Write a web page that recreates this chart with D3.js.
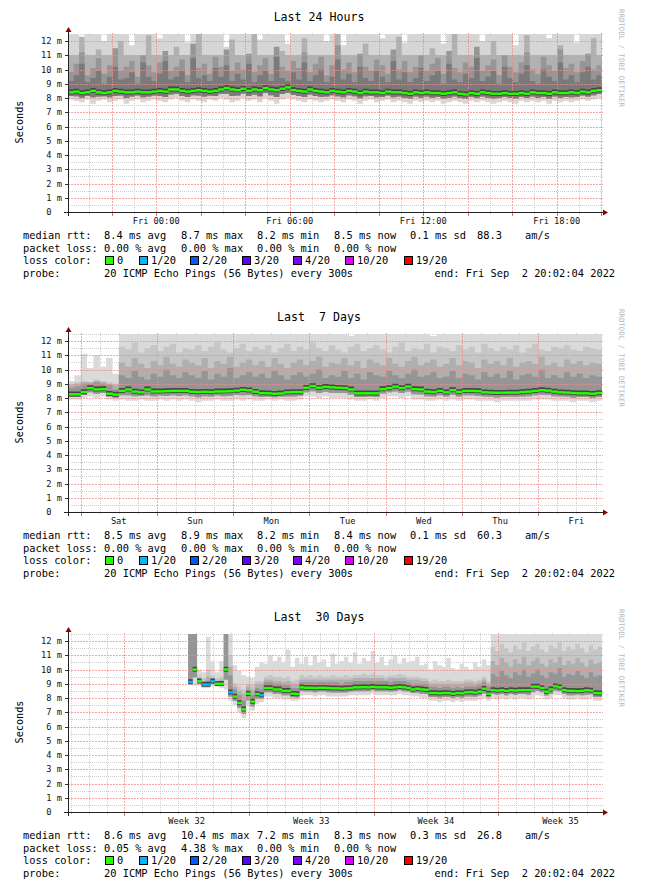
<!DOCTYPE html>
<html><head><meta charset="utf-8">
<script src="https://cdn.jsdelivr.net/npm/d3@7/dist/d3.min.js"></script>
<style>
html,body{margin:0;padding:0;background:#fff;}
svg text{font-family:"DejaVu Sans Mono",monospace;white-space:pre;}
</style></head><body>
<svg id="c" width="660" height="890"></svg>
<script>
// ---------------- data ----------------
const yTicks = [0,1,2,3,4,5,6,7,8,9,10,11,12];
const yLabels = ["0  ","1 m","2 m","3 m","4 m","5 m","6 m","7 m","8 m","9 m","10 m","11 m","12 m"];
const lossColors = ["#26ff00","#00b8ff","#0059ff","#5e00ff","#7e00ff","#dd00ff","#ff0000"];
const lossNames = ["0","1/20","2/20","3/20","4/20","10/20","19/20"];

// ---- Last 24 hours (15 min steps) ----
const labels24 = ["Fri 00:00","Fri 06:00","Fri 12:00","Fri 18:00"];
const labelTimes24 = ["2022-09-02T00:00:00Z","2022-09-02T06:00:00Z","2022-09-02T12:00:00Z","2022-09-02T18:00:00Z"];
const med24 = [8.4,8.45,8.35,8.4,8.5,8.4,8.35,8.4, 8.5,8.45,8.4,8.4,8.45,8.4,8.4,8.45, 8.5,8.45,8.6,8.6,8.5,8.45,8.5,8.55,
 8.5,8.45,8.5,8.6,8.7,8.6,8.55,8.65, 8.5,8.6,8.55,8.7,8.6,8.55,8.65,8.75, 8.55,8.5,8.45,8.6,8.5,8.45,8.4,8.5,
 8.45,8.4,8.5,8.45,8.35,8.45,8.4,8.4, 8.35,8.45,8.4,8.4,8.35,8.3,8.4,8.35, 8.4,8.35,8.35,8.3,8.35,8.4,8.3,8.25,
 8.35,8.3,8.4,8.35,8.3,8.3,8.35,8.3, 8.3,8.35,8.3,8.4,8.35,8.35,8.3,8.4, 8.35,8.35,8.4,8.35,8.45,8.4,8.5,8.55];
const lo24 = [7.9,7.8,7.7,7.9,7.6,7.8,7.9,7.7, 7.8,7.9,7.6,7.8,7.9,7.7,7.8,7.9, 7.8,7.7,7.9,8.0,7.8,7.7,7.9,7.8,
 7.7,7.9,7.8,8.0,7.9,7.7,7.8,8.0, 7.8,7.9,7.7,8.0,7.8,7.6,7.9,8.0, 7.9,7.8,7.7,7.9,7.8,7.7,7.8,7.9,
 7.8,7.7,7.9,7.8,7.6,7.8,7.9,7.7, 7.8,7.9,7.7,7.8,7.7,7.6,7.8,7.7, 7.8,7.7,7.8,7.6,7.7,7.8,7.7,7.6,
 7.8,7.7,7.8,7.7,7.6,7.7,7.8,7.7, 7.6,7.8,7.7,7.8,7.7,7.8,7.6,7.8, 7.7,7.8,7.7,7.8,7.9,7.8,7.9,8.0];
const top24 = [12.5,12.5,11.8,12.5,12.5,12.5,12.0,12.5, 12.5,12.5,12.5,11.7,12.5,12.5,12.5,12.5, 12.2,12.5,12.5,12.5,12.5,11.9,12.5,12.5,
 12.5,12.5,12.5,12.5,11.6,12.5,12.5,12.5, 12.5,12.5,12.1,12.5,12.5,12.5,12.5,11.8, 12.5,12.5,12.5,12.5,12.5,12.5,12.0,12.5,
 12.5,11.7,12.5,12.5,12.5,12.5,12.5,12.5, 12.2,12.5,12.5,12.5,11.9,12.5,12.5,12.5, 12.5,12.5,12.5,11.8,12.5,12.5,12.5,12.5,
 12.5,12.5,12.0,12.5,12.5,12.5,12.5,12.5, 11.7,12.5,12.5,12.5,12.5,12.5,12.2,12.5, 12.5,12.5,12.5,11.9,12.5,12.5,12.5,12.5];
const h3_24 = [11.0,11.0,12.3,11.0,11.0,11.4,11.0,11.0, 11.0,12.0,11.0,11.0,11.0,11.0,12.4,11.0, 11.0,11.0,11.0,11.6,11.0,11.0,11.0,12.5,
 11.0,11.0,11.0,11.0,11.0,12.1,11.0,11.0, 11.0,12.5,11.0,11.0,11.0,11.0,11.3,11.0, 11.0,11.0,12.2,11.0,11.0,11.0,11.0,11.0,
 12.5,11.0,11.0,11.0,11.0,11.8,11.0,11.0, 11.0,11.0,11.0,12.3,11.0,11.0,11.0,11.0, 11.0,11.5,11.0,11.0,11.0,12.5,11.0,11.0,
 11.0,11.0,11.0,11.0,12.0,11.0,11.0,11.0, 11.0,11.0,12.4,11.0,11.0,11.0,11.0,11.0, 11.7,11.0,11.0,11.0,11.0,11.0,12.2,11.0];
const h2_24 = [9.8,10.4,11.2,9.6,10.1,10.8,9.7,10.3, 11.5,9.9,10.2,10.6,9.5,11.0,10.3,9.8, 10.5,11.3,9.9,10.2,10.7,9.6,11.8,10.1,
 10.4,9.7,10.9,10.2,11.4,9.9,10.5,10.0, 11.1,9.8,10.3,10.8,9.7,11.6,10.2,9.9, 10.6,10.1,11.2,9.8,10.4,10.9,9.6,10.3,
 11.7,10.0,10.5,9.8,11.1,10.2,9.9,10.7, 10.3,9.7,11.4,10.0,10.6,9.8,10.2,11.0, 9.9,10.4,10.8,9.7,11.3,10.1,9.8,10.5,
 10.2,11.6,9.9,10.3,10.7,9.6,11.0,10.2, 9.8,10.5,11.2,10.0,9.7,10.9,10.3,9.9, 11.4,10.1,10.4,9.8,10.6,11.1,10.0,10.3];
const h1_24 = [9.2,9.6,10.4,9.1,9.4,9.9,9.0,9.5, 10.2,9.3,9.4,9.8,9.0,10.5,9.5,9.2, 9.7,10.6,9.3,9.5,9.9,9.1,10.8,9.4,
 9.6,9.2,10.1,9.5,10.3,9.2,9.7,9.3, 10.4,9.1,9.6,9.9,9.2,10.9,9.4,9.2, 9.8,9.3,10.5,9.2,9.6,10.0,9.1,9.5,
 10.7,9.3,9.7,9.1,10.2,9.4,9.2,9.9, 9.5,9.1,10.6,9.3,9.8,9.1,9.4,10.1, 9.2,9.6,9.9,9.0,10.4,9.3,9.1,9.7,
 9.4,10.8,9.2,9.5,9.9,9.0,10.2,9.4, 9.1,9.7,10.3,9.2,9.0,10.0,9.5,9.2, 10.5,9.3,9.6,9.1,9.8,10.2,9.3,9.6];
const lossAt24 = [];
const rtt24 = ["8.4 ms avg","8.7 ms max","8.2 ms min","8.5 ms now","0.1 ms sd","88.3","am/s"];
const pl24 = ["0.00 % avg","0.00 % max","0.00 % min","0.00 % now"];

// ---- Last 7 days (2 h steps) ----
const labels7 = ["Sat","Sun","Mon","Tue","Wed","Thu","Fri"];
const labelTimes7 = ["2022-08-27T12:00:00Z","2022-08-28T12:00:00Z","2022-08-29T12:00:00Z","2022-08-30T12:00:00Z","2022-08-31T12:00:00Z","2022-09-01T12:00:00Z","2022-09-02T12:00:00Z"];
const med7 = [8.26,8.26,8.42,8.7,8.6,8.62,8.3,8.24,8.5,8.6,8.45,8.4,
 8.6,8.46,8.46,8.48,8.5,8.5,8.5,8.44,8.42,8.44,8.42,8.46,
 8.46,8.48,8.52,8.58,8.54,8.44,8.34,8.33,8.3,8.32,8.4,8.42,
 8.42,8.72,8.84,8.72,8.78,8.75,8.72,8.7,8.6,8.33,8.33,8.33,
 8.33,8.62,8.7,8.8,8.7,8.8,8.62,8.6,8.45,8.42,8.5,8.4,
 8.55,8.42,8.5,8.5,8.48,8.4,8.38,8.37,8.37,8.38,8.38,8.42,
 8.45,8.5,8.55,8.52,8.45,8.4,8.38,8.35,8.33,8.33,8.3,8.35];
const lo7 = [7.9,7.9,8.0,8.1,8.0,8.1,7.9,7.8, 7.9,7.8,7.8,7.9,7.8,7.8,7.9,7.8, 7.9,7.8,7.9,7.8,7.7,7.8,7.8,7.9,
 7.8,7.8,7.9,7.8,7.9,7.8,7.8,7.9, 7.8,7.9,7.8,7.8,7.9,8.1,8.1,8.0, 8.1,8.0,8.0,8.0,7.9,7.8,7.8,7.9,
 7.8,8.0,8.1,8.1,8.0,8.1,7.9,7.9, 7.8,7.8,7.9,7.8,7.9,7.8,7.9,7.9, 7.8,7.8,7.8,7.7,7.8,7.8,7.8,7.8,
 7.8,7.9,7.9,7.9,7.8,7.8,7.8,7.7, 7.8,7.8,7.7,7.8];
const top7 = [9.2,9.6,11.1,10.1,11.0,10.2,10.8,9.7,12.5,12.5,12.5,12.5,
 12.5,12.5,12.5,12.5,12.5,12.5,12.5,12.5,12.5,12.5,12.5,12.5,
 12.5,12.5,12.5,12.5,12.5,12.5,12.5,12.5,12.5,12.5,12.5,12.5,
 12.5,12.5,12.5,12.5,12.5,12.5,12.5,12.5,12.35,12.5,12.5,12.5,
 12.5,12.5,12.5,12.5,12.5,12.5,12.5,12.5,12.5,12.35,12.5,12.5,
 12.5,12.5,12.5,12.5,12.5,12.5,12.5,12.5,12.5,12.5,12.5,12.5,
 12.5,12.5,12.5,12.5,12.5,12.5,12.5,12.5,12.5,12.5,12.5,12.5];
const h3_7 = [9.0,9.1,9.2,9.1,9.3,9.2,9.1,9.0,
 11.6,11.4,11.9,11.2,11.5,11.7,11.3,11.6, 11.8,11.2,11.5,11.4,11.7,11.3,11.6,11.9,
 11.4,11.2,11.5,11.8,11.3,11.6,11.4,11.7, 11.2,11.5,11.8,11.3,11.6,11.4,11.9,11.5,
 11.3,11.7,11.4,11.2,11.6,11.8,11.3,11.5, 11.7,11.4,11.2,11.6,11.9,11.3,11.5,11.4,
 11.8,11.2,11.6,11.5,11.3,11.7,11.4,11.6, 11.2,11.8,11.5,11.3,11.6,11.4,11.7,11.2,
 11.5,11.8,11.4,11.3,11.6,11.5,11.7,11.4, 11.3,11.6,11.5,11.4];
const h2_7 = [8.9,9.0,9.1,9.1,9.2,9.1,9.0,8.9,
 10.5,10.2,10.8,10.4,10.1,10.6,10.3,10.9, 10.4,10.2,10.7,10.5,10.3,10.8,10.1,10.6,
 10.4,10.9,10.2,10.5,10.7,10.3,10.6,10.2, 10.8,10.4,10.1,10.5,10.7,10.3,10.6,10.9,
 10.2,10.5,10.4,10.8,10.3,10.6,10.1,10.7, 10.5,10.3,10.8,10.4,10.2,10.6,10.9,10.3,
 10.5,10.7,10.2,10.4,10.8,10.3,10.6,10.5, 10.1,10.7,10.4,10.6,10.3,10.8,10.2,10.5,
 10.6,10.4,10.9,10.3,10.5,10.2,10.7,10.4, 10.6,10.3,10.5,10.4];
const h1_7 = [8.7,8.8,9.0,9.0,9.1,9.0,8.9,8.6,
 9.6,9.4,9.9,9.5,9.3,9.7,9.5,10.0, 9.6,9.4,9.8,9.6,9.4,9.9,9.3,9.7,
 9.5,10.1,9.4,9.6,9.8,9.5,9.7,9.4, 9.9,9.6,9.3,9.6,9.8,9.5,9.7,10.0,
 9.4,9.6,9.5,9.9,9.4,9.7,9.3,9.8, 9.6,9.5,9.9,9.6,9.4,9.7,10.0,9.5,
 9.6,9.8,9.4,9.5,9.9,9.4,9.7,9.6, 9.3,9.8,9.5,9.7,9.4,9.9,9.3,9.6,
 9.7,9.5,10.0,9.4,9.6,9.4,9.8,9.5, 9.7,9.4,9.6,9.5];
const lossAt7 = [];
const rtt7 = ["8.5 ms avg","8.9 ms max","8.2 ms min","8.4 ms now","0.1 ms sd","60.3","am/s"];
const pl7 = ["0.00 % avg","0.00 % max","0.00 % min","0.00 % now"];

// ---- Last 30 days (6 h steps, data begins Aug 10 14:02) ----
const labels30 = ["Week 32","Week 33","Week 34","Week 35"];
const labelTimes30 = ["2022-08-10T12:00:00Z","2022-08-17T12:00:00Z","2022-08-24T12:00:00Z","2022-08-31T12:00:00Z"];
const med30 = [9.12,10.0,9.17,8.94,8.94,9.17,9.0,9.0,10.0,8.4,
 8.1,7.65,7.2,8.3,7.75,8.28,8.2,8.7,8.7,8.6,
 8.6,8.5,8.5,8.3,8.28,8.75,8.72,8.72,8.7,8.72,
 8.72,8.7,8.68,8.68,8.66,8.68,8.7,8.75,8.75,8.76,
 8.75,8.78,8.75,8.75,8.75,8.72,8.75,8.78,8.75,8.7,
 8.6,8.65,8.6,8.58,8.35,8.35,8.33,8.35,8.35,8.3,
 8.35,8.33,8.4,8.42,8.38,8.45,8.65,8.3,8.55,8.52,
 8.55,8.5,8.55,8.52,8.55,8.55,8.55,8.8,8.8,8.7,
 8.45,8.6,8.82,8.75,8.55,8.5,8.5,8.48,8.5,8.55,
 8.52,8.35,8.33];
const lo30 = [8.9,8.9,8.9,8.7,8.7,8.8,8.8,8.7,8.6,7.8,
 7.5,7.0,6.6,7.4,7.1,7.6,7.7,8.1,8.1,8.0,
 8.0,7.9,7.9,7.8,7.8,8.2,8.2,8.2,8.1,8.2,
 8.2,8.1,8.1,8.1,8.1,8.1,8.2,8.2,8.2,8.2,
 8.2,8.3,8.2,8.2,8.2,8.2,8.2,8.3,8.2,8.2,
 8.1,8.1,8.0,8.0,7.8,7.8,7.7,7.8,7.8,7.7,
 7.8,7.7,7.8,7.8,7.8,7.9,8.0,7.8,8.0,7.9,
 8.0,7.9,8.0,7.9,8.0,8.0,7.9,8.0,8.2,8.1,
 7.9,8.0,8.2,8.2,8.0,7.9,7.9,8.0,7.9,7.9,
 8.0,7.8,7.8];
const top30 = [12.5,12.5,10.0,9.8,12.3,10.6,9.8,10.6,12.5,12.5,
 10.3,9.9,9.6,9.5,9.4,10.2,10.5,10.4,11.0,10.6,
 10.9,10.5,11.4,10.2,10.8,10.4,10.9,10.3,11.0,10.5,
 10.7,10.2,11.1,10.4,10.6,10.9,10.5,11.2,10.4,10.8,
 10.6,11.3,10.5,10.9,10.3,10.7,11.0,10.4,10.8,10.5,
 10.6,10.9,10.3,10.4,10.0,10.6,10.3,10.2,10.8,10.1,
 10.0,10.4,10.2,10.0,10.5,10.2,10.7,10.3,12.5,12.5,
 12.5,12.5,12.5,12.5,12.5,12.5,12.5,12.5,12.5,12.5,
 12.5,12.5,12.5,12.5,12.5,12.5,12.5,12.5,12.5,12.5,
 12.5,12.5,12.5];
const h3_30 = [12.5,12.5,9.6,9.4,10.0,9.6,9.4,9.5,12.5,11.0,
 9.0,8.8,8.6,9.0,8.9,9.2,9.2,9.5,9.6,9.5,
 9.5,9.4,9.5,9.2,9.3,9.6,9.5,9.6,9.5,9.6,
 9.5,9.5,9.6,9.5,9.5,9.6,9.5,9.6,9.6,9.7,
 9.6,9.7,9.6,9.6,9.5,9.6,9.6,9.7,9.6,9.5,
 9.5,9.5,9.4,9.4,9.2,9.3,9.2,9.2,9.3,9.2,
 9.2,9.2,9.3,9.3,9.2,9.3,9.5,9.2,11.6,11.3,
 11.8,11.5,11.2,11.7,11.4,11.9,11.3,11.6,11.8,11.4,
 11.2,11.7,11.5,11.9,11.3,11.6,11.4,11.8,11.5,11.2,
 11.7,11.4,11.6];
const h2_30 = [12.5,12.5,9.4,9.2,9.5,9.4,9.2,9.3,12.5,10.2,
 8.8,8.5,8.3,8.8,8.6,9.0,9.0,9.3,9.3,9.2,
 9.2,9.1,9.2,9.0,9.0,9.3,9.3,9.3,9.3,9.3,
 9.3,9.3,9.3,9.3,9.3,9.3,9.3,9.4,9.4,9.4,
 9.4,9.4,9.4,9.4,9.3,9.4,9.4,9.4,9.4,9.3,
 9.3,9.3,9.2,9.2,9.0,9.0,9.0,9.0,9.0,9.0,
 9.0,9.0,9.1,9.1,9.0,9.1,9.3,9.0,10.6,10.3,
 10.8,10.5,10.2,10.7,10.4,10.9,10.3,10.6,10.8,10.4,
 10.2,10.7,10.5,10.9,10.3,10.6,10.4,10.8,10.5,10.2,
 10.7,10.4,10.5];
const h1_30 = [12.5,12.5,9.3,9.1,9.2,9.3,9.1,9.2,12.5,9.6,
 8.6,8.2,7.8,8.6,8.2,8.7,8.6,9.1,9.1,9.0,
 9.0,8.9,8.9,8.7,8.7,9.1,9.1,9.1,9.1,9.1,
 9.1,9.1,9.1,9.1,9.0,9.1,9.1,9.2,9.2,9.2,
 9.2,9.2,9.2,9.2,9.2,9.1,9.2,9.2,9.2,9.1,
 9.0,9.0,9.0,9.0,8.8,8.8,8.7,8.8,8.8,8.7,
 8.8,8.7,8.8,8.8,8.8,8.9,9.1,8.8,9.7,9.5,
 9.9,9.6,9.4,9.8,9.6,10.0,9.5,9.7,10.0,9.6,
 9.4,9.8,9.7,10.1,9.5,9.7,9.6,9.9,9.6,9.4,
 9.8,9.5,9.6];
const lossAt30 = [[0,1],[3,1],[4,1],[5,1],[9,1],[16,1]]; // [index, loss level]
const rtt30 = ["8.6 ms avg","10.4 ms max","7.2 ms min","8.3 ms now","0.3 ms sd","26.8","am/s"];
const pl30 = ["0.05 % avg","4.38 % max","0.00 % min","0.00 % now"];

// ---------------- drawing ----------------
const svg = d3.select("#c");
const T = s => new Date(s);
const panels = [
  {title:"Last 24 Hours", start:T("2022-09-01T20:02:04Z"), end:T("2022-09-02T20:02:04Z"),
   dataStart:T("2022-09-01T20:02:04Z"), step:15*60e3,
   med:med24, lo:lo24, top:top24, h3:h3_24, h2:h2_24, h1:h1_24, lossAt:lossAt24,
   pal:["#d6d6d6","#b1b1b1","#969696","#7a7a7a"],
   minor:d3.utcHour.every(1), major:d3.utcHour.every(2),
   labels:labels24, labelTimes:labelTimes24, rtt:rtt24, pl:pl24},
  {title:"Last  7 Days", start:T("2022-08-26T20:02:04Z"), end:T("2022-09-02T20:02:04Z"),
   dataStart:T("2022-08-26T20:02:04Z"), step:2*3600e3,
   med:med7, lo:lo7, top:top7, h3:h3_7, h2:h2_7, h1:h1_7, lossAt:lossAt7,
   pal:["#dadada","#c6c6c6","#afafaf","#959595"],
   minor:d3.utcHour.every(6), major:d3.utcDay,
   labels:labels7, labelTimes:labelTimes7, rtt:rtt7, pl:pl7},
  {title:"Last  30 Days", start:T("2022-08-03T20:02:04Z"), end:T("2022-09-02T20:02:04Z"),
   dataStart:T("2022-08-10T14:02:04Z"), step:6*3600e3,
   med:med30, lo:lo30, top:top30, h3:h3_30, h2:h2_30, h1:h1_30, lossAt:lossAt30,
   pal:["#dadada","#c6c6c6","#afafaf","#959595"],
   minor:d3.utcDay, major:d3.utcSunday,
   labels:labels30, labelTimes:labelTimes30, rtt:rtt30, pl:pl30}
];

function drawPanel(p, oy) {
  const g = svg.append("g").attr("transform", `translate(0,${oy})`);
  const x = d3.scaleUtc().domain([p.start, p.end]).range([68, 602]);
  const y = d3.scaleLinear().domain([0, 12.5]).range([212, 33.9]);
  const n = p.med.length;
  const pts = d3.range(n + 1).map(i => ({t: new Date(+p.dataStart + i * p.step), i: Math.min(i, n - 1)}));
  const mid = i => (p.med[i] + p.lo[i]) / 2;

  // minor grid (under smoke)
  const minorT = p.minor.range(p.start, p.end).filter(t => +p.major.floor(t) !== +t);
  const gm = g.append("g").attr("stroke", "#cfcfcf").attr("stroke-dasharray", "1,1").attr("stroke-width", 1);
  minorT.forEach(t => gm.append("line").attr("x1", Math.round(x(t)) + 0.5).attr("x2", Math.round(x(t)) + 0.5).attr("y1", 214).attr("y2", 33));
  d3.range(0.5, 12.6, 1).forEach(v => gm.append("line").attr("x1", 68).attr("x2", 603).attr("y1", Math.round(y(v)) + 0.5).attr("y2", Math.round(y(v)) + 0.5));

  // smoke
  const layers = [[p.top, i => p.lo[i]], [p.h3, mid], [p.h2, mid], [p.h1, mid]];
  layers.forEach(([hi, lo], k) => {
    g.append("path").datum(pts).attr("fill", p.pal[k])
      .attr("d", d3.area().curve(d3.curveStepAfter).x(d => x(d.t)).y0(d => y(lo(d.i))).y1(d => y(hi[d.i])));
  });

  // major grid (over smoke)
  const gM = g.append("g").attr("stroke", "#f08c8c").attr("stroke-opacity", 0.75).attr("stroke-dasharray", "2,1").attr("stroke-width", 1);
  p.major.range(p.start, p.end).forEach(t => gM.append("line").attr("x1", Math.round(x(t)) + 0.5).attr("x2", Math.round(x(t)) + 0.5).attr("y1", 215).attr("y2", 33));
  yTicks.slice(1).forEach(v => gM.append("line").attr("x1", 68).attr("x2", 603).attr("y1", Math.round(y(v)) + 0.5).attr("y2", Math.round(y(v)) + 0.5));

  // dark median band
  g.append("path").datum(pts).attr("fill", "#474747")
    .attr("d", d3.area().curve(d3.curveStepAfter).x(d => x(d.t)).y0(d => y(p.med[d.i] - 0.15)).y1(d => y(p.med[d.i] + 0.2)));
  // median coloured by loss
  const lossOf = new Map(p.lossAt);
  const gl = g.append("g");
  for (let i = 0; i < n; i++) {
    const x0 = x(pts[i].t), x1 = x(pts[i + 1].t);
    gl.append("rect").attr("x", x0).attr("width", x1 - x0 + 0.4)
      .attr("y", y(p.med[i]) - 1.2).attr("height", 2.4)
      .attr("fill", lossColors[lossOf.get(i) || 0]);
  }

  // axes
  g.append("line").attr("x1", 64).attr("x2", 604).attr("y1", 212.5).attr("y2", 212.5).attr("stroke", "#222");
  g.append("line").attr("x1", 68.5).attr("x2", 68.5).attr("y1", 216).attr("y2", 31).attr("stroke", "#222");
  g.append("path").attr("d", "M603,209.5L608,212.5L603,215.5Z").attr("fill", "#8f0000");
  g.append("path").attr("d", "M65.5,32L68.5,27L71.5,32Z").attr("fill", "#8f0000");
  yTicks.slice(1).forEach(v => g.append("line").attr("x1", 65).attr("x2", 68).attr("y1", Math.round(y(v)) + 0.5).attr("y2", Math.round(y(v)) + 0.5).attr("stroke", "#333"));
  p.major.range(p.start, p.end).forEach(t => g.append("line").attr("x1", Math.round(x(t)) + 0.5).attr("x2", Math.round(x(t)) + 0.5).attr("y1", 213).attr("y2", 216).attr("stroke", "#e07070"));

  // y labels
  g.append("g").selectAll("text").data(yTicks).join("text")
    .attr("x", 62).attr("y", v => y(v) + 3).attr("text-anchor", "end")
    .attr("font-size", 8.7).attr("fill", "#111").text((v, i) => yLabels[i]);
  // x labels
  g.append("g").selectAll("text").data(p.labels).join("text")
    .attr("x", (d, i) => x(T(p.labelTimes[i]))).attr("y", 224).attr("text-anchor", "middle")
    .attr("font-size", 8.7).attr("fill", "#111").text(d => d);

  // title, axis title, watermark
  g.append("text").attr("x", 319).attr("y", 20.5).attr("text-anchor", "middle").attr("font-size", 11.6).attr("fill", "#000").text(p.title);
  g.append("text").attr("transform", "translate(22.5,122) rotate(-90)").attr("text-anchor", "middle").attr("font-size", 10.2).attr("fill", "#000").text("Seconds");
  g.append("text").attr("transform", "translate(619,9) rotate(90)").attr("font-size", 7.4).attr("fill", "#b8b8b8").text("RRDTOOL / TOBI OETIKER");

  // legend
  const fs = 10.35;
  const L = (xx, yy, s) => g.append("text").attr("x", xx).attr("y", yy).attr("font-size", fs).attr("fill", "#000").text(s);
  const colX = [104, 181, 257, 334, 410, 477, 525];
  L(23, 239, "median rtt:");
  p.rtt.forEach((s, i) => L(colX[i], 239, s));
  L(23, 251.5, "packet loss:");
  p.pl.forEach((s, i) => L(colX[i], 251.5, s));
  L(23, 264, "loss color:");
  const sqX = [105, 139, 190, 242, 293, 345, 404];
  lossNames.forEach((s, i) => {
    g.append("rect").attr("x", sqX[i] + 0.5).attr("y", 256.5).attr("width", 8).attr("height", 8)
      .attr("fill", lossColors[i]).attr("stroke", "#000").attr("stroke-width", 1);
    L(sqX[i] + 12, 264, s);
  });
  L(23, 276.5, "probe:");
  L(104, 276.5, "20 ICMP Echo Pings (56 Bytes) every 300s");
  L(434.5, 276.5, "end: Fri Sep  2 20:02:04 2022");
}

panels.forEach((p, k) => drawPanel(p, k * 300));
</script>
</body></html>
